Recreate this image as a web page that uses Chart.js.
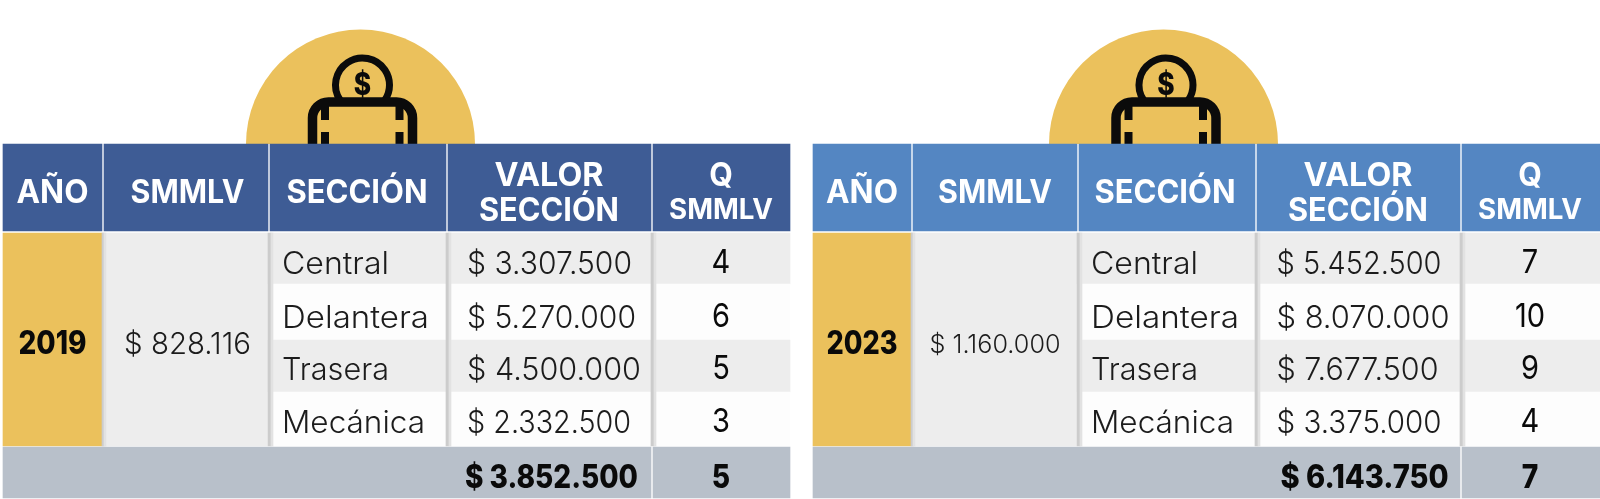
<!DOCTYPE html>
<html><head><meta charset="utf-8">
<style>html,body{margin:0;padding:0;background:#fff;overflow:hidden}canvas{display:block}</style>
<script src="https://cdn.jsdelivr.net/npm/chart.js@4/dist/chart.umd.min.js"></script>
</head><body><canvas id="c" width="1600" height="499"></canvas>
<script>
// ---- data ----
const headers = ["AÑO","SMMLV","SECCIÓN",["VALOR","SECCIÓN"],["Q","SMMLV"]];
const secciones = ["Central","Delantera","Trasera","Mecánica"];
const years = ["2019","2023"];
const smmlv = [828116,1160000];
const valor2019 = [3307500,5270000,4500000,2332500];
const valor2023 = [5452500,8070000,7677500,3375000];
const q2019 = [4,6,5,3];
const q2023 = [7,10,9,4];
const totalValor = [3852500,6143750];
const totalQ = [5,7];

// ---- layout (table geometry in page units) ----
const rowEdges = [[233,284],[284,340],[340,392],[392,446]];
const rowCenters = [263,317,369,422];
const tableLayouts = [
 {edges:[3,102,104,268,270,446,448,651,653,790], hdr:"#3E5C95",
  cx:[52.5,187.5,357,549,721], secX:282, valX:467, totalRight:638, circle:360.5, icon:362.5,
  smW:127, smSize:30, yearW:68,
  secW:[107,147,107,143], valW:[165,169,174,164], totW:173},
 {edges:[813,911,913,1077,1079,1255,1257,1460,1462,1600], hdr:"#5486C2",
  cx:[862,995,1165,1358,1530], secX:1091, valX:1276.5, totalRight:1448.5, circle:1163.5, icon:1166,
  smW:131, smSize:26, yearW:71,
  secW:[107,148,107,143], valW:[165,173,162,165], totW:168}
];
const YEL="#EBC15C", GR="#EDEDED", WH="#FDFDFD", TOT="#B8C0CA", SH="#CCCCCC", SH2="#E2E2E2";
const valores=[valor2019,valor2023], qs=[q2019,q2023];
const fmt=v=>"$ "+String(v).replace(/\B(?=(\d{3})+(?!\d))/g,".");

const datasets=[];
function col(x0,x1,rows,colors){
  datasets.push({data:rows.map(r=>({x:(x0+x1)/2,y:r})),backgroundColor:colors,
    barThickness:x1-x0,grouped:false,borderSkipped:false,borderWidth:0,order:-datasets.length});
}
tableLayouts.forEach(t=>{
  const e=t.edges;
  // header
  for(let i=0;i<5;i++) col(e[i*2],e[i*2+1],[[144,231]],[t.hdr]);
  // merged year / smmlv cells
  col(e[2]-2,e[3],[[233,446]],[GR]);
  col(e[0],e[1],[[233,446]],[YEL]);
  // striped cells
  const stripes=[GR,WH,GR,WH];
  for(let i=2;i<5;i++) col(e[i*2]-2,e[i*2+1],rowEdges,stripes);
  // soft shadow strips left of the columns
  col(e[1],e[1]+2,[[233,446]],[SH]);
  col(e[1]+2,e[1]+4,[[233,446]],[SH2]);
  for(let i=2;i<5;i++){
    col(e[i*2]-2,e[i*2]+1,[[233,446]],[SH]);
    col(e[i*2]+1,e[i*2]+3,[[233,446]],[SH2]);
  }
  // total row
  col(e[0],e[7],[[447,498]],[TOT]);
  col(e[8],e[9],[[447,498]],[TOT]);
});

// w > 1: target width in px; 0 < w <= 1: horizontal scale factor
function txt(ctx,s,x,y,font,color,align,w){
  ctx.save();
  ctx.font=font;ctx.fillStyle=color;ctx.textBaseline="middle";ctx.textAlign="left";
  const m=ctx.measureText(s).width;
  const sx=w?(w>1?w/m:w):1, tw=m*sx;
  const left=align==="center"?x-tw/2:align==="right"?x-tw:x;
  ctx.translate(left,y);ctx.scale(sx,1);
  ctx.fillText(s,0,0);
  ctx.restore();
}
const emblem={id:"emblem",beforeDatasetsDraw(ch){
  const c=ch.ctx,sx=ch.scales.x,sy=ch.scales.y;
  tableLayouts.forEach(t=>{
    const cx=sx.getPixelForValue(t.circle),by=sy.getPixelForValue(144);
    c.fillStyle=YEL;c.beginPath();c.arc(cx,by,114.5,Math.PI,2*Math.PI);c.fill();
    const ix=sx.getPixelForValue(t.icon);
    c.strokeStyle="#0b0b0b";c.fillStyle="#0b0b0b";c.lineWidth=7;
    const a=Math.asin(15/27);
    c.beginPath();c.arc(ix,85,27,Math.PI-a,a);c.stroke();
    c.lineWidth=9.5;c.lineJoin="round";
    c.beginPath();c.moveTo(ix-50,146);c.lineTo(ix-50,118);c.arcTo(ix-50,102,ix-34,102,16);
    c.lineTo(ix+34,102);c.arcTo(ix+50,102,ix+50,118,16);c.lineTo(ix+50,146);c.stroke();
    [-41.5,33].forEach(dx=>{c.fillRect(ix+dx,106,8,14);c.fillRect(ix+dx,132,8,13);});
    txt(c,"$",ix,86,"800 31px Inter","#0b0b0b","center",0.85);
  });
}};
const labels={id:"labels",afterDatasetsDraw(ch){
  const c=ch.ctx,X=v=>ch.scales.x.getPixelForValue(v),Y=v=>ch.scales.y.getPixelForValue(v);
  const H="#FFFFFF",D="#1c1c1c",B="#0a0a0a";
  const L="300 31px Inter";
  tableLayouts.forEach((t,k)=>{
    txt(c,headers[0],X(t.cx[0]),Y(193),"700 32px Inter",H,"center",72);
    txt(c,headers[1],X(t.cx[1]),Y(193),"700 32px Inter",H,"center",114);
    txt(c,headers[2],X(t.cx[2]),Y(193),"700 32px Inter",H,"center",141);
    txt(c,headers[3][0],X(t.cx[3]),Y(176),"700 32px Inter",H,"center",109);
    txt(c,headers[3][1],X(t.cx[3]),Y(211),"700 32px Inter",H,"center",140);
    txt(c,headers[4][0],X(t.cx[4]),Y(176),"700 32px Inter",H,"center",0.95);
    txt(c,headers[4][1],X(t.cx[4]),Y(211),"700 28px Inter",H,"center",104);
    txt(c,years[k],X(t.cx[0]),Y(344),"800 32px Inter",B,"center",t.yearW);
    txt(c,fmt(smmlv[k]),X(t.cx[1]),Y(345),"300 "+t.smSize+"px Inter",D,"center",t.smW);
    secciones.forEach((s,i)=>{
      txt(c,s,X(t.secX),Y(rowCenters[i]+2),L,D,"left",t.secW[i]);
      txt(c,fmt(valores[k][i]),X(t.valX),Y(rowCenters[i]+2),L,D,"left",t.valW[i]);
      txt(c,String(qs[k][i]),X(t.cx[4]),Y(rowCenters[i]),"400 33px Inter",B,"center",0.88);
    });
    txt(c,fmt(totalValor[k]),X(t.totalRight),Y(478),"800 32px Inter",B,"right",t.totW);
    txt(c,String(totalQ[k]),X(t.cx[4]),Y(478),"800 32px Inter",B,"center",0.88);
  });
}};
new Chart(document.getElementById("c"),{
  type:"bar",
  data:{datasets},
  plugins:[emblem,labels],
  options:{
    responsive:false,animation:false,devicePixelRatio:1,
    layout:{padding:0},
    plugins:{legend:{display:false},tooltip:{enabled:false},title:{display:false}},
    scales:{
      x:{type:"linear",min:0,max:1600,offset:false,display:false,grid:{offset:false}},
      y:{type:"linear",min:0,max:499,reverse:true,display:false}
    }
  }
});
</script></body></html>
